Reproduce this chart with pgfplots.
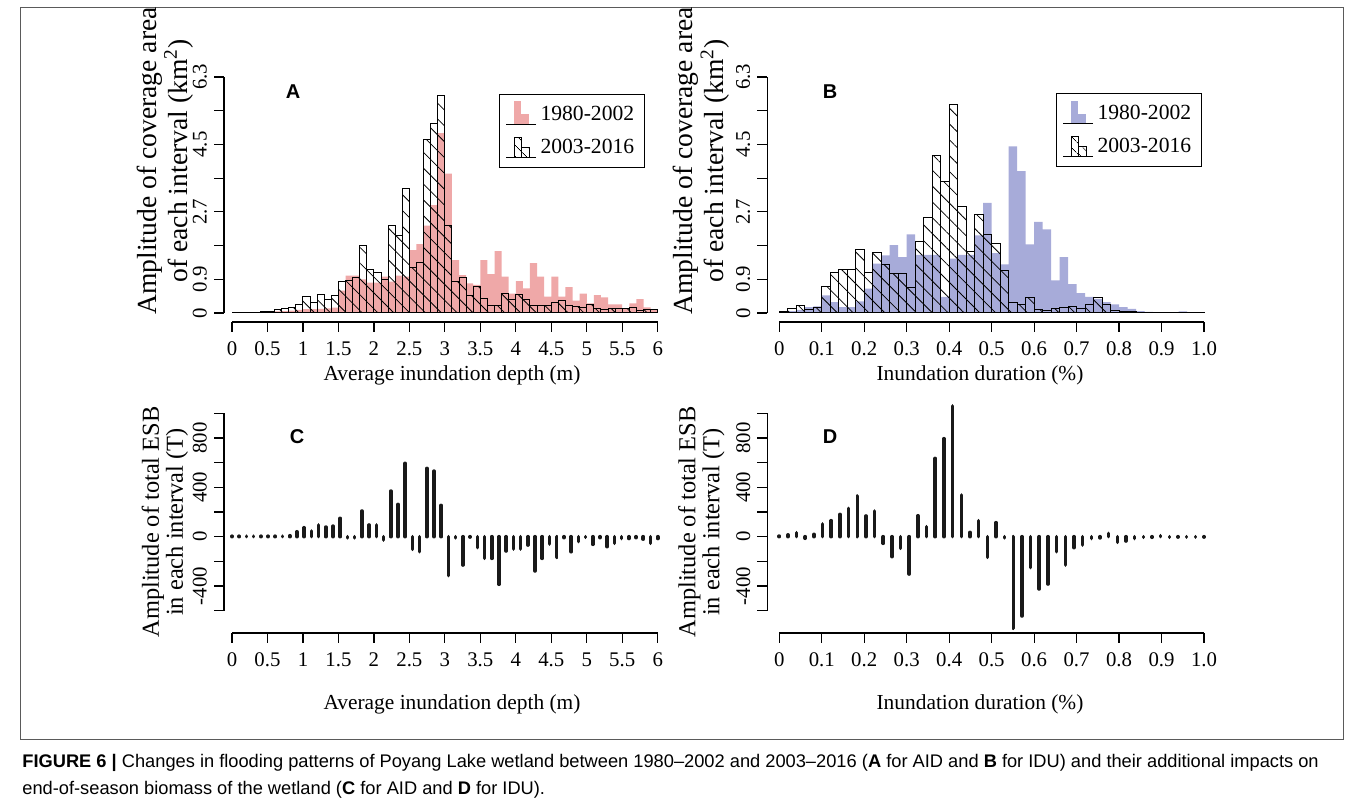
\documentclass[border=0pt]{standalone}
\usepackage{fontspec}
\setmainfont{Liberation Serif}
\setsansfont{Liberation Sans}
\usepackage{pgfplots}
\pgfplotsset{compat=1.18}
\usepackage{pgfplotstable}
\usetikzlibrary{patterns.meta}

\definecolor{pinkc}{RGB}{239,168,168}
\definecolor{bluec}{RGB}{167,171,217}
\definecolor{framec}{RGB}{90,90,90}

% A: average inundation depth, bins of 0.1 m (last row closes the interval)
\pgfplotstableread{
x p h
0.0 0.00 0.015
0.1 0.00 0.015
0.2 0.00 0.015
0.3 0.01 0.015
0.4 0.02 0.03
0.5 0.03 0.05
0.6 0.04 0.08
0.7 0.05 0.12
0.8 0.06 0.15
0.9 0.08 0.23
1.0 0.10 0.43
1.1 0.10 0.28
1.2 0.11 0.50
1.3 0.12 0.36
1.4 0.14 0.46
1.5 0.60 0.84
1.6 1.00 0.88
1.7 1.00 0.94
1.8 0.90 1.81
1.9 0.81 1.15
2.0 0.81 1.08
2.1 0.97 0.90
2.2 0.84 2.33
2.3 1.00 2.06
2.4 0.97 3.31
2.5 1.68 1.21
2.6 1.84 1.34
2.7 2.33 4.62
2.8 2.88 5.06
2.9 4.80 5.80
3.0 3.72 2.33
3.1 1.41 0.84
3.2 1.01 0.95
3.3 0.79 0.48
3.4 0.75 0.70
3.5 1.41 0.39
3.6 1.04 0.20
3.7 1.65 0.20
3.8 0.97 0.52
3.9 0.52 0.35
4.0 0.85 0.50
4.1 0.66 0.35
4.2 1.33 0.19
4.3 0.97 0.19
4.4 0.44 0.20
4.5 0.97 0.28
4.6 0.44 0.33
4.7 0.69 0.19
4.8 0.33 0.17
4.9 0.52 0.15
5.0 0.26 0.23
5.1 0.48 0.12
5.2 0.42 0.10
5.3 0.23 0.11
5.4 0.23 0.11
5.5 0.12 0.13
5.6 0.26 0.15
5.7 0.37 0.06
5.8 0.15 0.08
5.9 0.10 0.10
6.0 0.00 0.00
}\depthtab

% B: inundation duration, bins of 0.02
\pgfplotstableread{
x b h
0.00 0.03 0.03
0.02 0.05 0.13
0.04 0.08 0.20
0.06 0.16 0.09
0.08 0.18 0.16
0.10 0.47 0.71
0.12 0.29 1.08
0.14 0.16 1.17
0.16 0.16 1.17
0.18 0.31 1.69
0.20 0.65 1.08
0.22 1.32 1.61
0.24 1.54 1.29
0.26 1.81 1.05
0.28 1.49 1.05
0.30 2.10 0.68
0.32 1.55 1.90
0.34 1.55 2.56
0.36 1.55 4.21
0.38 0.43 3.52
0.40 1.45 5.57
0.42 1.55 2.85
0.44 1.55 1.63
0.46 2.07 2.63
0.48 2.94 2.10
0.50 1.60 1.85
0.52 1.30 1.14
0.54 4.45 0.27
0.56 3.79 0.23
0.58 1.83 0.41
0.60 2.43 0.10
0.62 2.23 0.07
0.64 0.87 0.13
0.66 1.49 0.16
0.68 0.77 0.18
0.70 0.53 0.12
0.72 0.43 0.23
0.74 0.38 0.41
0.76 0.29 0.23
0.78 0.23 0.07
0.80 0.16 0.04
0.82 0.11 0.03
0.84 0.05 0.02
0.86 0.03 0.02
0.88 0.02 0.01
0.90 0.01 0.01
0.92 0.02 0.02
0.94 0.04 0.02
0.96 0.02 0.01
0.98 0.01 0.01
1.00 0.00 0.00
}\durtab

% C: ESB change per depth interval
\pgfplotstableread{
x v
0.0000 4
0.1017 4
0.2034 4
0.3051 4
0.4068 4
0.5085 4
0.6102 4
0.7119 4
0.8136 8
0.9153 40
1.0169 73
1.1186 46
1.2203 95
1.3220 78
1.4237 86
1.5254 149
1.6271 -10
1.7288 -10
1.8305 208
1.9322 95
2.0339 95
2.1356 -27
2.2373 370
2.3390 262
2.4407 595
2.5424 -103
2.6441 -122
2.7458 554
2.8475 532
2.9492 254
3.0508 -316
3.1525 -10
3.2542 -230
3.3559 -3
3.4576 -89
3.5593 -176
3.6610 -176
3.7627 -386
3.8644 -116
3.9661 -100
4.0678 -100
4.1695 -68
4.2712 -278
4.3729 -176
4.4746 -60
4.5763 -168
4.6780 -8
4.7797 -122
4.8814 -40
4.9831 -5
5.0847 -62
5.1864 -8
5.2881 -81
5.3898 -54
5.4915 -15
5.5932 -15
5.6949 -8
5.7966 -20
5.8983 -54
6.0000 -15
}\esbdepth

% D: ESB change per duration interval
\pgfplotstableread{
x v
0.0000 5
0.0204 15
0.0408 32
0.0612 -13
0.0816 19
0.1020 103
0.1224 130
0.1429 181
0.1633 230
0.1837 330
0.2041 168
0.2245 208
0.2449 -54
0.2653 -162
0.2857 -95
0.3061 -303
0.3265 170
0.3469 81
0.3673 635
0.3878 795
0.4082 1060
0.4286 338
0.4490 35
0.4694 130
0.4898 -168
0.5102 114
0.5306 -10
0.5510 -743
0.5714 -643
0.5918 -251
0.6122 -424
0.6327 -384
0.6531 -122
0.6735 -230
0.6939 -89
0.7143 -68
0.7347 -15
0.7551 -10
0.7755 27
0.7959 -46
0.8163 -35
0.8367 -15
0.8571 -5
0.8776 -5
0.8980 8
0.9184 -5
0.9388 -3
0.9592 -3
0.9796 -3
1.0000 -3
}\esbdur

\tikzset{axlines/.style={black, line width=0.6pt}}
\pgfplotsset{
  rplot/.style={
    scale only axis, clip=false,
    axis lines*=left, axis line style={draw=none},
    tick align=outside, major tick length=5pt,
    tick style={black, line width=0.6pt},
    /pgf/number format/assume math mode=true,
    tick label style={font=\fontsize{10.4}{12}\selectfont},
    x tick label style={yshift=-1.5pt},
    y tick label style={rotate=90, anchor=south},
  },
  hatch/.style={ybar interval, draw=black, line width=0.5pt,
    pattern={Lines[angle=-45,distance=5.6pt,line width=0.4pt]}, pattern color=black},
  hatchleg/.style={legend image code/.code={
    \draw[black,line width=0.5pt,pattern={Lines[angle=-45,distance=4pt,line width=0.4pt]}] (4pt,-5pt) rectangle (7.5pt,5pt);
    \draw[black,line width=0.5pt,pattern={Lines[angle=-45,distance=4pt,line width=0.4pt]}] (7.5pt,-5pt) rectangle (11.5pt,0pt);
    \draw[black,line width=0.5pt] (0pt,-5pt) -- (15pt,-5pt);}},
  fillleg/.style={legend image code/.code={
    \fill[#1] (4pt,-5pt) rectangle (7.5pt,6.5pt);
    \fill[#1] (7.5pt,-5pt) rectangle (11.5pt,0pt);
    \draw[black,line width=0.5pt] (0pt,-5pt) -- (15pt,-5pt);}},
  histleg/.style={legend style={at={#1}, anchor=north west, draw=black, line width=0.6pt,
    font=\fontsize{10.8}{12}\selectfont, row sep=4pt, inner xsep=3pt, inner ysep=3.5pt},
    legend cell align=left},
}

\begin{document}
\begin{tikzpicture}
\useasboundingbox (0pt,0pt) rectangle (678.5pt,403pt);
\draw[framec, line width=0.5pt] (10pt,33pt) rectangle (671.5pt,399pt);

% A
\begin{axis}[rplot, at={(112pt,242pt)}, anchor=south west,
  width=216.85pt, height=122.5pt,
  xmin=-0.1128, xmax=6, ymin=-0.24, ymax=6.3,
  xtick={0,0.5,...,6}, xticklabels={0,0.5,1,1.5,2,2.5,3,3.5,4,4.5,5,5.5,6},
  ytick={0,0.9,1.8,2.7,3.6,4.5,5.4,6.3}, yticklabels={0,0.9,,2.7,,4.5,,6.3},
  histleg={(0.634,0.931)}]
\addplot[ybar interval, fill=pinkc, draw=none, fillleg=pinkc] table[x=x,y=p] {\depthtab};
\addplot[hatch, hatchleg] table[x=x,y=h] {\depthtab};
\legend{1980-2002,2003-2016}
\draw[axlines] (axis cs:0,-0.24) -- (axis cs:6,-0.24);
\draw[axlines] (axis cs:-0.1128,0) -- (axis cs:-0.1128,6.3);
\end{axis}

% B
\begin{axis}[rplot, at={(383.65pt,242pt)}, anchor=south west,
  width=218.35pt, height=122.5pt,
  xmin=-0.0282, xmax=1, ymin=-0.24, ymax=6.3,
  xtick={0,0.1,...,1.0}, xticklabels={0,0.1,0.2,0.3,0.4,0.5,0.6,0.7,0.8,0.9,1.0},
  ytick={0,0.9,1.8,2.7,3.6,4.5,5.4,6.3}, yticklabels={0,0.9,,2.7,,4.5,,6.3},
  histleg={(0.661,0.935)}]
\addplot[ybar interval, fill=bluec, draw=none, fillleg=bluec] table[x=x,y=b] {\durtab};
\addplot[hatch, hatchleg] table[x=x,y=h] {\durtab};
\legend{1980-2002,2003-2016}
\draw[axlines] (axis cs:0,-0.24) -- (axis cs:1,-0.24);
\draw[axlines] (axis cs:-0.0282,0) -- (axis cs:-0.0282,6.3);
\end{axis}

% C
\begin{axis}[rplot, at={(112pt,86.5pt)}, anchor=south west,
  width=216.85pt, height=109.8pt,
  xmin=-0.1128, xmax=6, ymin=-781, ymax=1000,
  xtick={0,0.5,...,6}, xticklabels={0,0.5,1,1.5,2,2.5,3,3.5,4,4.5,5,5.5,6},
  ytick={-600,-400,...,1000}, yticklabels={,-400,,0,,400,,800,}]
\addplot[ycomb, black!90, line width=1.8pt, line cap=round, mark=none] table[x=x,y=v] {\esbdepth};
\draw[axlines] (axis cs:0,-781) -- (axis cs:6,-781);
\draw[axlines] (axis cs:-0.1128,-600) -- (axis cs:-0.1128,1000);
\end{axis}

% D
\begin{axis}[rplot, at={(383.65pt,86.5pt)}, anchor=south west,
  width=218.35pt, height=109.8pt,
  xmin=-0.0282, xmax=1, ymin=-781, ymax=1000,
  xtick={0,0.1,...,1.0}, xticklabels={0,0.1,0.2,0.3,0.4,0.5,0.6,0.7,0.8,0.9,1.0},
  ytick={-600,-400,...,1000}, yticklabels={,-400,,0,,400,,800,}]
\addplot[ycomb, black!90, line width=1.8pt, line cap=round, mark=none] table[x=x,y=v] {\esbdur};
\draw[axlines] (axis cs:0,-781) -- (axis cs:1,-781);
\draw[axlines] (axis cs:-0.0282,-600) -- (axis cs:-0.0282,1000);
\end{axis}

% labels
\begin{scope}[every node/.style={font=\fontsize{10.7}{12}\selectfont}]
\node at (226pt,215.5pt) {Average inundation depth (m)};
\node at (490pt,215.5pt) {Inundation duration (\%)};
\node at (226pt,51pt) {Average inundation depth (m)};
\node at (490pt,51pt) {Inundation duration (\%)};
\end{scope}
\begin{scope}[every node/.style={rotate=90, align=center}]
\node[font=\fontsize{13.8}{12}\selectfont] at (82.5pt,322.5pt) {Amplitude of coverage area\\of each interval (km\textsuperscript{2})};
\node[font=\fontsize{13.8}{12}\selectfont] at (350.75pt,322.5pt) {Amplitude of coverage area\\of each interval (km\textsuperscript{2})};
\node[font=\fontsize{12.2}{12}\selectfont] at (82.5pt,142pt) {Amplitude of total ESB\\in each interval (T)};
\node[font=\fontsize{12.2}{12}\selectfont] at (350.75pt,142pt) {Amplitude of total ESB\\in each interval (T)};
\end{scope}
\begin{scope}[every node/.style={font=\sffamily\bfseries\fontsize{10}{12}\selectfont}]
\node at (146.5pt,357pt) {A};
\node at (415pt,357pt) {B};
\node at (148.5pt,184.5pt) {C};
\node at (415pt,184.5pt) {D};
\end{scope}
\begin{scope}[every node/.style={font=\sffamily\fontsize{9.13}{10}\selectfont, anchor=west, inner sep=0pt}]
\node at (11pt,21.5pt) {\textbf{FIGURE 6 |} Changes in flooding patterns of Poyang Lake wetland between 1980–2002 and 2003–2016 (\textbf{A} for AID and \textbf{B} for IDU) and their additional impacts on};
\node at (11pt,8pt) {end-of-season biomass of the wetland (\textbf{C} for AID and \textbf{D} for IDU).};
\end{scope}
\end{tikzpicture}
\end{document}
